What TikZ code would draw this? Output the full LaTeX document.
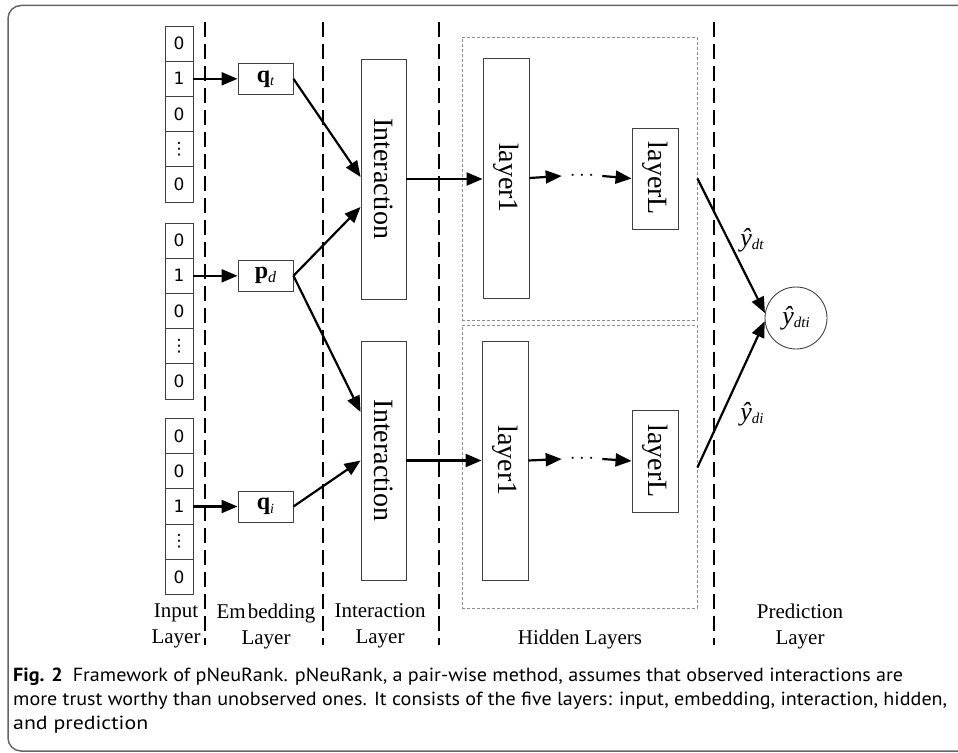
\documentclass[tikz,border=0pt]{standalone}
\usepackage{fontspec}
\setmainfont{Liberation Serif}
\newfontfamily\capfont{PT Sans}
\newfontfamily\dvs{DejaVu Sans}
\usetikzlibrary{arrows.meta}
\newcommand\subtx[2]{\raisebox{-0.3ex}{\fontsize{#1}{#1}\selectfont\itshape #2}}
\begin{document}
\begin{tikzpicture}[x=1pt,y=-1pt,
  inbox/.style={draw=black!75, line width=0.9pt, minimum width=28pt, minimum height=35.2pt, inner sep=0pt, font=\dvs\fontsize{17}{17}\selectfont},
  embox/.style={draw=black!75, line width=0.9pt, minimum width=55pt, minimum height=31pt, inner sep=0pt, font=\fontsize{24}{24}\selectfont},
  tall/.style={draw=black!75, line width=0.9pt, minimum width=45pt, inner sep=0pt, font=\fontsize{28}{28}\selectfont},
  sepline/.style={line width=2.4pt, dash pattern=on 15pt off 7pt},
  hid/.style={draw=black!45, line width=0.8pt, dash pattern=on 3pt off 2pt},
  arr/.style={-{Triangle[length=16pt,width=13pt]}, line width=2.2pt},
  lbl/.style={font=\fontsize{21}{26}\selectfont, align=center},
  yl/.style={font=\fontsize{26}{26}\selectfont, inner sep=0pt},
  captxt/.style={anchor=base west, inner sep=0pt, font=\capfont\fontsize{19}{19}\selectfont},
]
\useasboundingbox (0,0) rectangle (958,752);
% frame
\begin{scope}
\clip (0,0) rectangle (958,752);
\draw[black!60, line width=1.5pt, rounded corners=13pt] (8,5.5) rectangle (1000,751);
\end{scope}

% separators
\draw[sepline] (205,22) -- (205,645);
\draw[sepline] (323,22) -- (323,645);
\draw[sepline] (439,22) -- (439,645);
\draw[sepline] (714,22) -- (714,645);

% hidden layer boxes
\node[hid, minimum width=235pt, minimum height=283pt, inner sep=0pt] (h1) at (579.5,178.5) {};
\node[hid, minimum width=235pt, minimum height=283pt, inner sep=0pt] (h2) at (579.5,466.5) {};

% input groups
\node[inbox] (a1) at (179,43.6) {0};
\node[inbox] (a2) at (179,78.8) {1};
\node[inbox] (a3) at (179,114) {0};
\node[inbox] (a4) at (179,149.2) {⋮};
\node[inbox] (a5) at (179,184.4) {0};

\node[inbox] (b1) at (179,240.6) {0};
\node[inbox] (b2) at (179,275.8) {1};
\node[inbox] (b3) at (179,311) {0};
\node[inbox] (b4) at (179,346.2) {⋮};
\node[inbox] (b5) at (179,381.4) {0};

\node[inbox] (c1) at (179,436.1) {0};
\node[inbox] (c2) at (179,471.3) {0};
\node[inbox] (c3) at (179,506.5) {1};
\node[inbox] (c4) at (179,541.7) {⋮};
\node[inbox] (c5) at (179,576.9) {0};

% embedding
\node[embox] (qt) at (265.5,78.8) {{\bfseries q}\subtx{14}{t}};
\node[embox] (pd) at (265.5,275.8) {{\bfseries p}\subtx{16}{d}};
\node[embox] (qi) at (265.5,506.5) {{\bfseries q}\subtx{14}{i}};

% interaction
\node[tall, minimum height=240pt] (int1) at (383.5,179) {\rotatebox{-90}{Interaction}};
\node[tall, minimum height=239pt] (int2) at (383.5,460.5) {\rotatebox{-90}{Interaction}};

% hidden layers
\node[tall, minimum width=46pt, minimum height=240pt] (l1a) at (506,178) {\rotatebox{-90}{layer1}};
\node[tall, minimum width=46pt, minimum height=101pt] (lLa) at (655,178.5) {\rotatebox{-90}{layerL}};
\node[font=\fontsize{20}{20}\selectfont, inner sep=0pt] (da) at (582,176) {$\cdots$};
\node[tall, minimum width=46pt, minimum height=239pt] (l1b) at (505,460.5) {\rotatebox{-90}{layer1}};
\node[tall, minimum width=46pt, minimum height=102pt] (lLb) at (655,461) {\rotatebox{-90}{layerL}};
\node[font=\fontsize{20}{20}\selectfont, inner sep=0pt] (db) at (582,459) {$\cdots$};

% prediction
\node[draw=black!75, line width=0.9pt, circle, minimum size=62pt, inner sep=0pt, font=\fontsize{26}{26}\selectfont] (pr) at (796,318) {\textit{ŷ}\subtx{15}{dti}};

% arrows input -> embedding
\draw[arr] (a2.east) -- (qt.west);
\draw[arr] (b2.east) -- (pd.west);
\draw[arr] (c3.east) -- (qi.west);

% embedding -> interaction
\draw[arr] (qt.east) -- ([yshift=2pt]int1.west);
\draw[arr] (pd.east) -- ([yshift=-28pt]int1.west);
\draw[arr] (pd.east) -- ([yshift=48.5pt]int2.west);
\draw[arr] (qi.east) -- (int2.west);

% interaction -> hidden
\draw[arr] (int1.east) -- (int1.east -| l1a.west);
\draw[arr] (int2.east) -- (int2.east -| l1b.west);
\draw[arr] (l1a.east) -- ([xshift=-8pt]da.west);
\draw[arr] ([xshift=8pt]da.east) -- (lLa.west);
\draw[arr] (l1b.east) -- ([xshift=-8pt]db.west);
\draw[arr] ([xshift=8pt]db.east) -- (lLb.west);

% hidden -> prediction
\draw[arr] (h1.east) -- (pr.171);
\draw[arr] ([yshift=-1pt]h2.east) -- (pr.186);
\node[yl] (ydt) at (752,240) {\textit{ŷ}\subtx{15}{dt}};
\node[yl] (ydi) at (752,414) {\textit{ŷ}\subtx{15}{di}};

% layer labels
\node[lbl] (L1) at (176,626) {Input\\Layer};
\node[lbl] (L2) at (266,626) {Em\kern2pt bedding\\Layer};
\node[lbl] (L3) at (380,626) {Interaction\\Layer};
\node[lbl] (L4) at (580,639) {Hidden Layers};
\node[lbl] (L5) at (800,626) {Prediction\\Layer};

% caption
\node[captxt] (cap1) at (13,681) {\resizebox{890pt}{\height}{{\bfseries Fig. 2}\enspace Framework of pNeuRank. pNeuRank, a pair-wise method, assumes that observed interactions are}};
\node[captxt] (cap2) at (13,705) {\resizebox{934pt}{\height}{more trust worthy than unobserved ones. It consists of the five layers: input, embedding, interaction, hidden,}};
\node[captxt] (cap3) at (13,729) {\resizebox{135pt}{\height}{and prediction}};
\end{tikzpicture}
\end{document}
